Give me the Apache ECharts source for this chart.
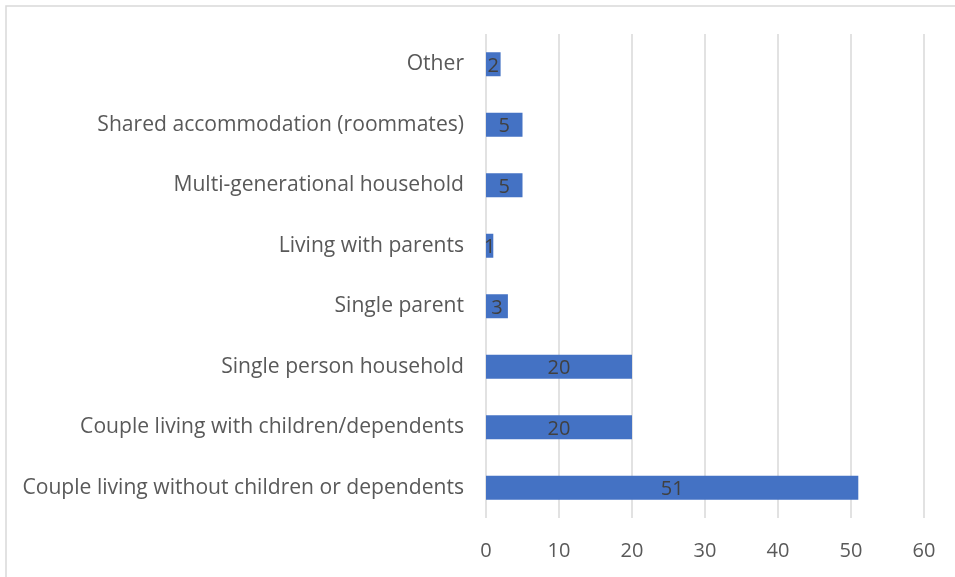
<!DOCTYPE html>
<html>
<head>
<meta charset="utf-8">
<script src="https://cdn.jsdelivr.net/npm/echarts@6/dist/echarts.min.js"></script>
<style>
  html, body { margin: 0; padding: 0; background: #ffffff; }
  #chart { width: 955px; height: 577px; }
</style>
</head>
<body>
<div id="chart"></div>
<script>
// Household types, listed bottom to top
const categories = [
  'Couple living without children or dependents',
  'Couple living with children/dependents',
  'Single person household',
  'Single parent',
  'Living with parents',
  'Multi-generational household',
  'Shared accommodation (roommates)',
  'Other'
];
const counts = [51, 20, 20, 3, 1, 5, 5, 2];
const xTicks = [0, 10, 20, 30, 40, 50, 60];

const FONT = '"Open Sans", "Noto Sans", sans-serif';
const chart = echarts.init(document.getElementById('chart'));

chart.setOption({
  animation: false,
  backgroundColor: '#ffffff',
  graphic: [{
    type: 'rect',
    shape: { x: 6, y: 6, width: 980, height: 600 },
    style: { fill: 'none', stroke: '#d9d9d9', lineWidth: 1.5 },
    silent: true
  }],
  grid: { left: 486, right: 31, top: 34, bottom: 59, containLabel: false },
  xAxis: {
    type: 'value',
    min: xTicks[0],
    max: xTicks[xTicks.length - 1],
    interval: 10,
    axisLine: { show: false },
    axisTick: { show: false },
    splitLine: { show: true, lineStyle: { color: '#d9d9d9', width: 1.5 } },
    axisLabel: { color: '#595959', fontSize: 20, fontFamily: FONT, margin: 23 }
  },
  yAxis: {
    type: 'category',
    data: categories,
    axisLine: { show: false },
    axisTick: { show: false },
    axisLabel: { color: '#595959', fontSize: 21.1, fontFamily: FONT, margin: 22, padding: [0, 0, 6, 0] }
  },
  series: [{
    type: 'bar',
    data: counts,
    barWidth: 24,
    itemStyle: { color: '#4472c4' },
    label: {
      show: true,
      position: 'inside',
      color: '#404040',
      fontSize: 20,
      fontFamily: FONT,
      offset: [0, 2]
    }
  }]
});
</script>
</body>
</html>
